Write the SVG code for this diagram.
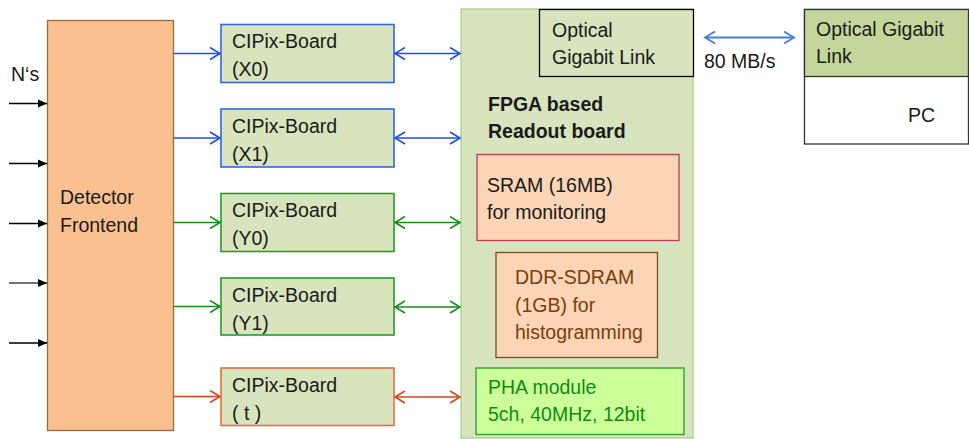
<svg xmlns="http://www.w3.org/2000/svg" width="969" height="439" viewBox="0 0 969 439">
<style>
text{font-family:"Liberation Sans",Arial,sans-serif;font-size:19.5px;fill:#1a1a1a}
.b{font-weight:bold}
.board{fill:#d7e4bd}
.ln{fill:none;stroke-width:1.6}
</style>
<defs>
<marker id="tri" markerWidth="10" markerHeight="10" refX="9" refY="5" orient="auto" markerUnits="userSpaceOnUse"><path d="M0,1 L9,5 L0,9 Z" fill="#000"/></marker>
<marker id="cb" markerWidth="14" markerHeight="14" refX="11" refY="7" orient="auto-start-reverse" markerUnits="userSpaceOnUse"><path d="M1,1 L11,7 L1,13" fill="none" stroke="#1f4fe0" stroke-width="1.6"/></marker>
<marker id="cg" markerWidth="14" markerHeight="14" refX="11" refY="7" orient="auto-start-reverse" markerUnits="userSpaceOnUse"><path d="M1,1 L11,7 L1,13" fill="none" stroke="#1a8c1a" stroke-width="1.6"/></marker>
<marker id="co" markerWidth="14" markerHeight="14" refX="11" refY="7" orient="auto-start-reverse" markerUnits="userSpaceOnUse"><path d="M1,1 L11,7 L1,13" fill="none" stroke="#d4461a" stroke-width="1.6"/></marker>
<marker id="cl" markerWidth="14" markerHeight="14" refX="11" refY="7" orient="auto-start-reverse" markerUnits="userSpaceOnUse"><path d="M1,1 L11,7 L1,13" fill="none" stroke="#4a7bd8" stroke-width="1.8"/></marker>
</defs>
<rect width="969" height="439" fill="#fff"/>

<g id="fpga">
<rect x="461" y="9" width="232" height="429" fill="#d7e4bd" stroke="#a9d18e" stroke-width="1.3"/>
<text class="b" x="488" y="111">FPGA based</text>
<text class="b" x="488" y="138">Readout board</text>
</g>
<g id="optlink">
<rect x="539.5" y="9.5" width="154" height="67" class="board" stroke="#000" stroke-width="1.3"/>
<text x="552" y="37">Optical</text>
<text x="552" y="64">Gigabit  Link</text>
</g>
<g id="sram">
<rect x="477" y="154.5" width="202" height="86" fill="#fbd5b5" stroke="#c0395a" stroke-width="1.3"/>
<text x="487" y="192">SRAM (16MB)</text>
<text x="487" y="219">for monitoring</text>
</g>
<g id="ddr">
<rect x="496" y="252.5" width="161.5" height="105" fill="#fbd5b5" stroke="#7a4a20" stroke-width="1.3"/>
<text x="515" y="284" style="fill:#7a3e10">DDR-SDRAM</text>
<text x="515" y="311.5" style="fill:#7a3e10">(1GB) for</text>
<text x="515" y="338.5" style="fill:#7a3e10">histogramming</text>
</g>
<g id="pha">
<rect x="476" y="368" width="208" height="66.5" fill="#ccff99" stroke="#2e9a2e" stroke-width="1.3"/>
<text x="488" y="394" style="fill:#138a13">PHA module</text>
<text x="488" y="421" style="fill:#138a13">5ch, 40MHz, 12bit</text>
</g>

<g id="pc">
<rect x="804.5" y="9.5" width="164" height="134.5" fill="#fff" stroke="#333" stroke-width="1.3"/>
<rect x="804.5" y="9.5" width="164" height="67" fill="#c3d69b" stroke="#333" stroke-width="1.3"/>
<text x="816" y="36">Optical Gigabit</text>
<text x="816" y="63">Link</text>
<text x="908" y="122">PC</text>
</g>

<g id="frontend">
<rect x="47.5" y="20.5" width="126" height="410" fill="#fac090" stroke="#9c6a3c" stroke-width="1.3"/>
<text x="60" y="204">Detector</text>
<text x="60" y="232">Frontend</text>
</g>
<text x="11" y="81">N‘s</text>

<g id="bx0"><rect x="221" y="24.5" width="173" height="58" class="board" stroke="#3366dd" stroke-width="1.6"/><text x="232" y="48">CIPix-Board</text><text x="232" y="76">(X0)</text></g>
<g id="bx1"><rect x="221" y="109" width="173" height="58" class="board" stroke="#3366dd" stroke-width="1.6"/><text x="232" y="132.5">CIPix-Board</text><text x="232" y="160.5">(X1)</text></g>
<g id="by0"><rect x="221" y="193.5" width="173" height="58" class="board" stroke="#2a9a2a" stroke-width="1.6"/><text x="232" y="217">CIPix-Board</text><text x="232" y="245">(Y0)</text></g>
<g id="by1"><rect x="221" y="278" width="173" height="57" class="board" stroke="#2a9a2a" stroke-width="1.6"/><text x="232" y="301.5">CIPix-Board</text><text x="232" y="329.5">(Y1)</text></g>
<g id="bt"><rect x="221" y="368" width="173" height="57.5" class="board" stroke="#e07040" stroke-width="1.6"/><text x="232" y="391.5">CIPix-Board</text><text x="232" y="419.5">( t )</text></g>

<g id="connectors">
<line x1="9" y1="103.5" x2="47" y2="103.5" stroke="#000" stroke-width="1.3" marker-end="url(#tri)"/>
<line x1="9" y1="163.5" x2="47" y2="163.5" stroke="#000" stroke-width="1.3" marker-end="url(#tri)"/>
<line x1="9" y1="223.5" x2="47" y2="223.5" stroke="#000" stroke-width="1.3" marker-end="url(#tri)"/>
<line x1="9" y1="283" x2="47" y2="283" stroke="#444" stroke-width="1.3" marker-end="url(#tri)"/>
<line x1="9" y1="343" x2="47" y2="343" stroke="#000" stroke-width="1.3" marker-end="url(#tri)"/>

<line class="ln" x1="174" y1="53.5" x2="220" y2="53.5" stroke="#1f4fe0" marker-end="url(#cb)"/>
<line class="ln" x1="174" y1="138" x2="220" y2="138" stroke="#1f4fe0" marker-end="url(#cb)"/>
<line class="ln" x1="174" y1="222.5" x2="220" y2="222.5" stroke="#1a8c1a" marker-end="url(#cg)"/>
<line class="ln" x1="174" y1="306.5" x2="220" y2="306.5" stroke="#1a8c1a" marker-end="url(#cg)"/>
<line class="ln" x1="174" y1="396.5" x2="220" y2="396.5" stroke="#d4461a" marker-end="url(#co)"/>

<line class="ln" x1="395" y1="53.5" x2="460" y2="53.5" stroke="#1f4fe0" marker-start="url(#cb)" marker-end="url(#cb)"/>
<line class="ln" x1="395" y1="138" x2="460" y2="138" stroke="#1f4fe0" marker-start="url(#cb)" marker-end="url(#cb)"/>
<line class="ln" x1="395" y1="222.5" x2="460" y2="222.5" stroke="#1a8c1a" marker-start="url(#cg)" marker-end="url(#cg)"/>
<line class="ln" x1="395" y1="307" x2="460" y2="307" stroke="#1a8c1a" marker-start="url(#cg)" marker-end="url(#cg)"/>
<line class="ln" x1="395" y1="397" x2="460" y2="397" stroke="#d4461a" marker-start="url(#co)" marker-end="url(#co)"/>

<line x1="705" y1="37.5" x2="794" y2="37.5" stroke="#4a7bd8" stroke-width="2" marker-start="url(#cl)" marker-end="url(#cl)"/>
</g>
<text x="704" y="68">80 MB/s</text>
</svg>
